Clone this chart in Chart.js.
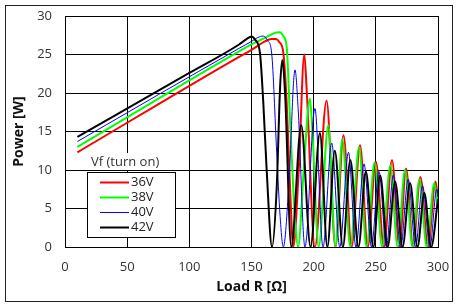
<!DOCTYPE html>
<html>
<head>
<meta charset="utf-8">
<script src="https://cdn.jsdelivr.net/npm/chart.js@4.4.0/dist/chart.umd.min.js"></script>
<style>
  html, body { margin: 0; padding: 0; background: #fff; }
  canvas { display: block; }
</style>
</head>
<body>
<canvas id="power-chart" width="458" height="307"></canvas>
<script>
// series labels (Vf turn-on voltage)
var seriesNames = ["36V", "38V", "40V", "42V"];
var seriesColors = ["#ff0000", "#00ff00", "#0000ff", "#000000"];

// 36V - red
var loadR36 = [10, 140, 150, 160.8, 166, 169.7, 172.5, 175.6, 178.3, 181, 183.6, 188, 192.5, 194.5, 201, 210.4, 217.5, 224, 230.5, 237.3, 243.5, 250, 256.5, 263, 269, 274.3, 280, 285.8, 292, 298, 300];
var power36 = [12.3, 24.7, 25.6, 26.7, 27.0, 27.0, 26.6, 25.2, 18.7, 7.8, 0, 10, 25, 20, 0, 19, 0, 14.5, 0, 13.2, 0, 11.1, 0, 11.3, 0, 10.2, 0, 9.1, 0, 8.5, 6];

// 38V - green
var loadR38 = [10, 140, 150, 160, 166, 170, 173, 175.5, 178.3, 181, 185, 187.5, 192, 197, 199, 204, 211.8, 217.5, 223, 229.5, 236.5, 242.5, 249, 255, 261.7, 267.5, 273.5, 279.5, 285, 291, 297, 300];
var power38 = [13.0, 25.4, 26.3, 27.1, 27.6, 27.85, 27.9, 27.4, 26, 16.5, 3.5, 0, 10, 19.3, 15, 0, 15.8, 0, 14, 0, 13, 0, 11, 0, 10.6, 0, 10, 0, 8.8, 0, 8.3, 5];

// 40V - blue
var loadR40 = [10, 140, 150, 155, 159.5, 163, 166.2, 170.3, 173, 175.6, 180, 185, 187.5, 193, 201, 207.5, 214.5, 221, 228, 234, 240.5, 246.5, 252.5, 258.5, 264, 270, 276, 282, 287.5, 293.5, 299, 300];
var power40 = [13.7, 25.8, 26.7, 27.2, 27.4, 26.8, 25.2, 12.2, 4, 0, 8, 23, 18, 0, 18, 0, 13.5, 0, 12.3, 0, 10.8, 0, 9.8, 0, 9.3, 0, 8.8, 0, 8, 0, 7.5, 6.5];

// 42V - black
var loadR42 = [10, 100, 140, 146, 150, 153, 156.8, 159.5, 162.2, 166.5, 170.3, 173, 174.8, 177, 182, 190, 197.5, 205, 211, 217, 223.5, 229.5, 236, 242, 248, 253.5, 259.5, 265.5, 271.5, 277.5, 283.5, 289, 294.5, 300];
var power42 = [14.3, 22.6, 26.3, 27.0, 27.35, 26.9, 25.2, 18.7, 10, 0, 7.8, 20.8, 24.3, 20, 0, 15.8, 0, 14.8, 0, 12.5, 0, 11.3, 0, 9.8, 0, 9.3, 0, 8.5, 0, 8.3, 0, 7.0, 0, 6.2];

// axis ticks
var xTicks = [0, 50, 100, 150, 200, 250, 300];
var yTicks = [0, 5, 10, 15, 20, 25, 30];

var loads = [loadR36, loadR38, loadR40, loadR42];
var powers = [power36, power38, power40, power42];
var widths = [2, 2, 1, 2];

function toPoints(xs, ys) {
  var pts = [];
  for (var i = 0; i < xs.length; i++) pts.push({x: xs[i], y: ys[i]});
  return pts;
}

var datasets = [];
for (var s = 0; s < seriesNames.length; s++) {
  datasets.push({
    label: seriesNames[s],
    data: toPoints(loads[s], powers[s]),
    borderColor: seriesColors[s],
    borderWidth: widths[s],
    pointRadius: 0,
    fill: false,
    cubicInterpolationMode: "monotone",
    order: seriesNames.length - s
  });
}

var FONT = "'Open Sans', 'DejaVu Sans', sans-serif";

// white page + outer frame
var framePlugin = {
  id: "frame",
  beforeDraw: function(chart) {
    var c = chart.ctx;
    c.save();
    c.fillStyle = "#fff";
    c.fillRect(0, 0, chart.width, chart.height);
    c.restore();
  },
  afterDraw: function(chart) {
    var c = chart.ctx;
    c.save();
    c.strokeStyle = "#222";
    c.lineWidth = 1;
    c.strokeRect(5.5, 5.5, chart.width - 11, chart.height - 11);
    c.restore();
  }
};

// legend box inside the plot, with its title above
var legendPlugin = {
  id: "boxLegend",
  afterDatasetsDraw: function(chart) {
    var c = chart.ctx;
    var bx = 87.5, by = 172.5, bw = 88, bh = 65;
    c.save();
    c.fillStyle = "#fff";
    c.fillRect(bx, 153, bw, 17);
    c.fillRect(bx, by, bw, bh);
    c.strokeStyle = "#000";
    c.lineWidth = 1;
    c.strokeRect(bx, by, bw, bh);
    c.font = "13px " + FONT;
    c.fillStyle = "#333";
    c.textBaseline = "middle";
    c.textAlign = "left";
    c.fillText("Vf (turn on)", 91, 162);
    for (var i = 0; i < seriesNames.length; i++) {
      var yy = 182.5 + i * 15;
      c.beginPath();
      c.strokeStyle = seriesColors[i];
      c.lineWidth = widths[i];
      c.moveTo(100, yy);
      c.lineTo(129, yy);
      c.stroke();
      c.fillStyle = "#222";
      c.fillText(seriesNames[i], 131, yy);
    }
    c.restore();
  }
};

new Chart("power-chart", {
  type: "line",
  data: { datasets: datasets },
  options: {
    responsive: false,
    animation: false,
    layout: { padding: { left: 0, top: 16, right: 20, bottom: 0 } },
    plugins: { legend: { display: false }, tooltip: { enabled: false } },
    scales: {
      x: {
        type: "linear",
        min: 0, max: 300,
        afterFit: function(scale) { scale.height = 60; },
        afterBuildTicks: function(scale) { scale.ticks = xTicks.map(function(v) { return {value: v}; }); },
        // invisible tick marks give the label gap without adding edge padding
        grid: { color: "#000", lineWidth: 1, drawTicks: true, tickLength: 12, tickColor: "rgba(0,0,0,0)" },
        border: { color: "#000" },
        ticks: { padding: 0, color: "#333", font: { family: FONT, size: 13 } },
        title: { display: true, text: "Load R [Ω]", color: "#111", padding: { top: 0, bottom: 12 },
                 font: { family: FONT, size: 14, weight: "bold" } }
      },
      y: {
        type: "linear",
        min: 0, max: 30,
        afterFit: function(scale) { scale.width = 65; },
        afterBuildTicks: function(scale) { scale.ticks = yTicks.map(function(v) { return {value: v}; }); },
        grid: { color: "#000", lineWidth: 1, drawTicks: true, tickLength: 13, tickColor: "rgba(0,0,0,0)" },
        border: { color: "#000" },
        ticks: { padding: 0, color: "#333", font: { family: FONT, size: 13 } },
        title: { display: true, text: "Power [W]", color: "#111", padding: { top: 11, bottom: 0 },
                 font: { family: FONT, size: 14, weight: "bold" } }
      }
    }
  },
  plugins: [framePlugin, legendPlugin]
});
</script>
</body>
</html>
